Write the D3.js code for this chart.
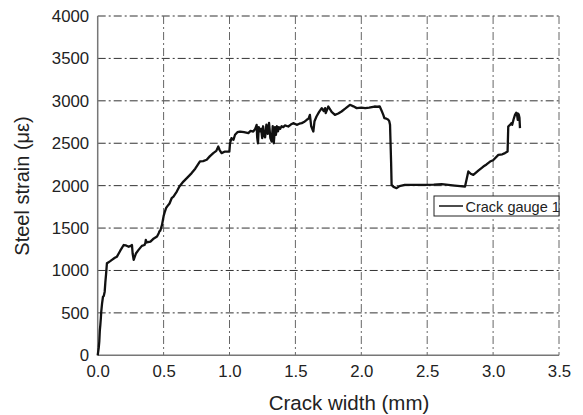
<!DOCTYPE html>
<html><head><meta charset="utf-8">
<script src="https://cdn.jsdelivr.net/npm/d3@7"></script>
<style>body{margin:0;background:#fff}</style>
</head><body>
<svg id="c" width="583" height="415"></svg>
<script>
const crackWidth = [0,0.008,0.012,0.016,0.02,0.024,0.027,0.033,0.04,0.046,0.053,0.058,0.063,0.07,0.08,0.095,0.108,0.13,0.146,0.17,0.197,0.215,0.235,0.25,0.26,0.265,0.273,0.29,0.31,0.335,0.355,0.361,0.365,0.372,0.40,0.42,0.45,0.463,0.468,0.475,0.488,0.5,0.51,0.52,0.536,0.545,0.561,0.575,0.60,0.62,0.65,0.68,0.713,0.74,0.776,0.80,0.827,0.85,0.877,0.9,0.915,0.925,0.94,0.966,0.999,1.004,1.015,1.03,1.042,1.06,1.08,1.11,1.143,1.16,1.18,1.195,1.206,1.21,1.216,1.222,1.23,1.24,1.248,1.255,1.262,1.27,1.28,1.29,1.30,1.31,1.32,1.328,1.336,1.345,1.352,1.36,1.368,1.375,1.385,1.395,1.408,1.42,1.446,1.465,1.484,1.51,1.53,1.548,1.565,1.586,1.6,1.61,1.62,1.636,1.645,1.66,1.68,1.70,1.715,1.725,1.73,1.75,1.775,1.80,1.825,1.85,1.88,1.914,1.94,1.965,2.0,2.03,2.06,2.10,2.12,2.14,2.155,2.167,2.175,2.19,2.205,2.212,2.218,2.222,2.226,2.23,2.245,2.268,2.29,2.33,2.4,2.48,2.55,2.61,2.66,2.71,2.75,2.787,2.80,2.812,2.83,2.85,2.89,2.926,2.95,2.977,3.0,3.04,3.07,3.09,3.11,3.115,3.13,3.14,3.145,3.155,3.166,3.175,3.18,3.187,3.19,3.195,3.2,3.204];
const steelStrain = [0,90,160,290,357,440,515,610,690,700,750,860,947,1085,1095,1110,1125,1150,1163,1230,1300,1295,1280,1290,1300,1200,1125,1200,1243,1290,1300,1320,1360,1330,1340,1370,1400,1440,1460,1470,1537,1640,1695,1740,1773,1790,1852,1870,1930,1990,2048,2095,2148,2200,2285,2290,2305,2345,2384,2410,2461,2420,2384,2402,2402,2500,2560,2540,2600,2630,2638,2630,2620,2645,2638,2670,2717,2570,2500,2690,2640,2670,2560,2700,2590,2570,2720,2610,2740,2560,2520,2700,2500,2690,2600,2700,2640,2690,2670,2700,2690,2710,2697,2720,2737,2717,2730,2737,2750,2776,2790,2835,2700,2638,2760,2815,2870,2914,2880,2914,2855,2933,2870,2835,2850,2874,2910,2953,2935,2914,2920,2914,2920,2933,2930,2933,2880,2835,2796,2790,2776,2760,2717,2500,2284,2009,1985,1970,1995,2009,2010,2009,2012,2018,2010,2001,1995,1990,2080,2167,2140,2127,2180,2225,2250,2284,2300,2363,2370,2384,2402,2697,2720,2737,2717,2780,2835,2860,2855,2776,2850,2835,2800,2678];
const xTicks = [0,0.5,1.0,1.5,2.0,2.5,3.0,3.5];
const yTicks = [0,500,1000,1500,2000,2500,3000,3500,4000];
const seriesName = "Crack gauge 1";

const svg = d3.select("#c");
const L=97.7, R=559, T=16, B=355.3;
const x = d3.scaleLinear().domain([0,3.5]).range([L,R]);
const y = d3.scaleLinear().domain([0,4000]).range([B,T]);
const font = "Liberation Sans, Arial, Helvetica, sans-serif";
const dash = "8,3,2,3";

svg.append("g").selectAll("line").data(yTicks.filter(d=>d>0)).join("line")
  .attr("x1",L).attr("x2",R).attr("y1",d=>y(d)).attr("y2",d=>y(d))
  .attr("stroke","#333").attr("stroke-width",1).attr("stroke-dasharray",dash);
svg.append("g").selectAll("line").data(xTicks.filter(d=>d>0)).join("line")
  .attr("y1",T).attr("y2",B).attr("x1",d=>x(d)).attr("x2",d=>x(d))
  .attr("stroke","#666").attr("stroke-width",1).attr("stroke-dasharray",dash);

svg.append("line").attr("x1",L).attr("x2",L).attr("y1",T).attr("y2",B).attr("stroke","#777").attr("stroke-width",1.5);
svg.append("line").attr("x1",L).attr("x2",R).attr("y1",B).attr("y2",B).attr("stroke","#777").attr("stroke-width",1.5);

const xAxis = d3.axisBottom(x).tickValues(xTicks).tickFormat(d3.format(".1f")).tickSize(0).tickPadding(10);
const gx = svg.append("g").attr("transform",`translate(0,${B})`).call(xAxis);
gx.select(".domain").remove();
gx.selectAll("text").attr("font-family",font).attr("font-size",16.8).attr("fill","#222");
const yAxis = d3.axisLeft(y).tickValues(yTicks).tickFormat(d3.format("d")).tickSize(0).tickPadding(8.5);
const gy = svg.append("g").attr("transform",`translate(${L},0)`).call(yAxis);
gy.select(".domain").remove();
gy.selectAll("text").attr("font-family",font).attr("font-size",16.8).attr("fill","#222");

const pts = crackWidth.map((v,i)=>[v,steelStrain[i]]);
svg.append("path").datum(pts)
  .attr("d",d3.line().x(d=>x(d[0])).y(d=>y(d[1])))
  .attr("fill","none").attr("stroke","#111").attr("stroke-width",2.3).attr("stroke-linejoin","round");

svg.append("text").attr("x",(268+430)/2).attr("y",410).attr("text-anchor","middle")
  .attr("font-family",font).attr("font-size",20.5).attr("fill","#222").text("Crack width (mm)");
svg.append("text").attr("transform","translate(29,186) rotate(-90)").attr("text-anchor","middle")
  .attr("font-family",font).attr("font-size",20).attr("fill","#222").text("Steel strain (με)");

const lg = svg.append("g");
lg.append("rect").attr("x",434).attr("y",196).attr("width",125).attr("height",20).attr("fill","#fff").attr("stroke","#222").attr("stroke-width",1);
lg.append("line").attr("x1",439).attr("x2",463).attr("y1",206).attr("y2",206).attr("stroke","#111").attr("stroke-width",1.5);
lg.append("text").attr("x",465.5).attr("y",211.5).attr("font-family",font).attr("font-size",14.5).attr("fill","#222").text(seriesName);
</script>
</body></html>
